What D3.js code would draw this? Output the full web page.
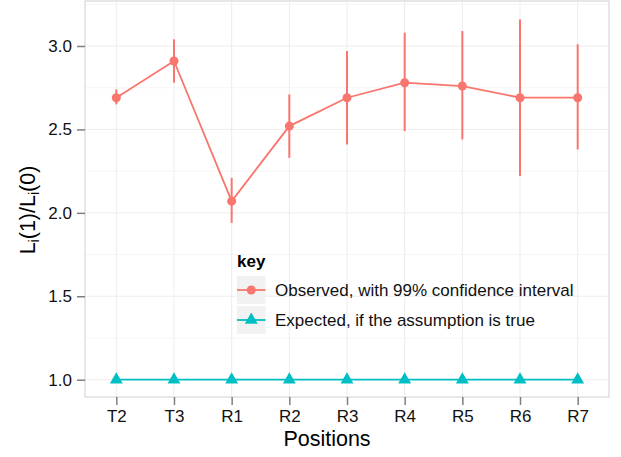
<!DOCTYPE html>
<html>
<head>
<meta charset="utf-8">
<script src="https://cdn.jsdelivr.net/npm/d3@7"></script>
<style>
  body { margin: 0; background: #fff; }
  svg { font-family: "Liberation Sans", Arial, Helvetica, sans-serif; }
</style>
</head>
<body>
<div id="chart"></div>
<script>
// Data
const positions = ['T2', 'T3', 'R1', 'R2', 'R3', 'R4', 'R5', 'R6', 'R7'];
const observed = [2.69, 2.91, 2.07, 2.52, 2.69, 2.78, 2.76, 2.69, 2.69];
const ciLow = [2.65, 2.78, 1.94, 2.33, 2.41, 2.49, 2.44, 2.22, 2.38];
const ciHigh = [2.74, 3.04, 2.21, 2.71, 2.97, 3.08, 3.09, 3.16, 3.01];
const expected = [1, 1, 1, 1, 1, 1, 1, 1, 1];
const yTicks = [1.0, 1.5, 2.0, 2.5, 3.0];
const yMinor = [1.25, 1.75, 2.25, 2.75, 3.25];
const keyLabels = ['Observed, with 99% confidence interval', 'Expected, if the assumption is true'];

const red = '#F8766D';
const cyan = '#00BFC4';

// Panel area
const panel = { left: 85, right: 609, top: 1, bottom: 397 };

const svg = d3.select('#chart')
    .append('svg')
    .attr('width', 621)
    .attr('height', 457);

// Scales
const xScale = d3.scalePoint()
    .domain(positions)
    .range([panel.left, panel.right])
    .padding(0.543);

const yScale = d3.scaleLinear()
    .domain([0.8963, 3.2697])
    .range([panel.bottom, panel.top]);

// Grid lines
const grid = svg.append('g');
grid.selectAll('.minor')
    .data(yMinor)
    .enter().append('line')
    .attr('x1', panel.left).attr('x2', panel.right)
    .attr('y1', d => yScale(d)).attr('y2', d => yScale(d))
    .attr('stroke', '#f5f5f5').attr('stroke-width', 1);
grid.selectAll('.major')
    .data(yTicks)
    .enter().append('line')
    .attr('x1', panel.left).attr('x2', panel.right)
    .attr('y1', d => yScale(d)).attr('y2', d => yScale(d))
    .attr('stroke', '#ededed').attr('stroke-width', 1);
grid.selectAll('.vert')
    .data(positions)
    .enter().append('line')
    .attr('x1', d => xScale(d)).attr('x2', d => xScale(d))
    .attr('y1', panel.top).attr('y2', panel.bottom)
    .attr('stroke', '#ededed').attr('stroke-width', 1);

// Panel border
svg.append('rect')
    .attr('x', panel.left).attr('y', panel.top)
    .attr('width', panel.right - panel.left)
    .attr('height', panel.bottom - panel.top)
    .attr('fill', 'none')
    .attr('stroke', '#d0d0d0')
    .attr('stroke-width', 1);

// Axes
const xAxis = svg.append('g')
    .attr('transform', `translate(0,${panel.bottom})`)
    .call(d3.axisBottom(xScale).tickSize(8).tickPadding(5));
const yAxis = svg.append('g')
    .attr('transform', `translate(${panel.left},0)`)
    .call(d3.axisLeft(yScale).tickValues(yTicks).tickFormat(d3.format('.1f')).tickSize(8).tickPadding(5));
[xAxis, yAxis].forEach(a => {
    a.select('.domain').remove();
    a.selectAll('.tick line').attr('stroke', '#7f7f7f').attr('stroke-width', 1.5);
    a.selectAll('.tick text')
        .attr('font-size', 17)
        .attr('font-family', '"Liberation Sans", Arial, sans-serif')
        .attr('fill', '#111');
});

// Axis titles
svg.append('text')
    .attr('x', 327).attr('y', 446)
    .attr('text-anchor', 'middle')
    .attr('font-size', 21.5)
    .text('Positions');

const yTitle = svg.append('text')
    .attr('transform', 'translate(35,210) rotate(-90)')
    .attr('text-anchor', 'middle')
    .attr('font-size', 21.5);
yTitle.append('tspan').text('L');
yTitle.append('tspan').attr('font-size', 14).attr('dy', 4).text('i');
yTitle.append('tspan').attr('dy', -4).text('(1)/L');
yTitle.append('tspan').attr('font-size', 14).attr('dy', 4).text('i');
yTitle.append('tspan').attr('dy', -4).text('(0)');

// Expected series
const line = d3.line()
    .x(d => xScale(d.pos))
    .y(d => yScale(d.v));

const expData = positions.map((p, i) => ({ pos: p, v: expected[i] }));
svg.append('path')
    .datum(expData)
    .attr('d', line)
    .attr('fill', 'none')
    .attr('stroke', cyan)
    .attr('stroke-width', 1.8);
svg.selectAll('.tri')
    .data(expData)
    .enter().append('path')
    .attr('d', d3.symbol().type(d3.symbolTriangle).size(72))
    .attr('transform', d => `translate(${xScale(d.pos)},${yScale(d.v)})`)
    .attr('fill', cyan);

// Observed series with confidence intervals
const obsData = positions.map((p, i) => ({ pos: p, v: observed[i], lo: ciLow[i], hi: ciHigh[i] }));
svg.selectAll('.err')
    .data(obsData)
    .enter().append('line')
    .attr('x1', d => xScale(d.pos)).attr('x2', d => xScale(d.pos))
    .attr('y1', d => yScale(d.lo)).attr('y2', d => yScale(d.hi))
    .attr('stroke', red)
    .attr('stroke-width', 2);
svg.append('path')
    .datum(obsData)
    .attr('d', line)
    .attr('fill', 'none')
    .attr('stroke', red)
    .attr('stroke-width', 1.8);
svg.selectAll('.pt')
    .data(obsData)
    .enter().append('circle')
    .attr('cx', d => xScale(d.pos))
    .attr('cy', d => yScale(d.v))
    .attr('r', 4.5)
    .attr('fill', red);

// Legend
const legend = svg.append('g').attr('transform', 'translate(237,0)');
legend.append('text')
    .attr('x', 0).attr('y', 266.5)
    .attr('font-size', 17)
    .attr('font-weight', 'bold')
    .text('key');

const keys = legend.selectAll('.key')
    .data(keyLabels)
    .enter().append('g')
    .attr('transform', (d, i) => `translate(0,${276 + i * 30})`);
keys.append('rect')
    .attr('width', 28.5).attr('height', 28)
    .attr('fill', '#f2f2f2');
keys.append('line')
    .attr('x1', 0).attr('x2', 28.5)
    .attr('y1', 14).attr('y2', 14)
    .attr('stroke', (d, i) => i === 0 ? red : cyan)
    .attr('stroke-width', 1.8);
keys.filter((d, i) => i === 0).append('circle')
    .attr('cx', 14.25).attr('cy', 14).attr('r', 4.5)
    .attr('fill', red);
keys.filter((d, i) => i === 1).append('path')
    .attr('d', d3.symbol().type(d3.symbolTriangle).size(72))
    .attr('transform', 'translate(14.25,14)')
    .attr('fill', cyan);
keys.append('text')
    .attr('x', 38).attr('y', 20)
    .attr('font-size', 17)
    .attr('fill', '#111')
    .text(d => d);
</script>
</body>
</html>
